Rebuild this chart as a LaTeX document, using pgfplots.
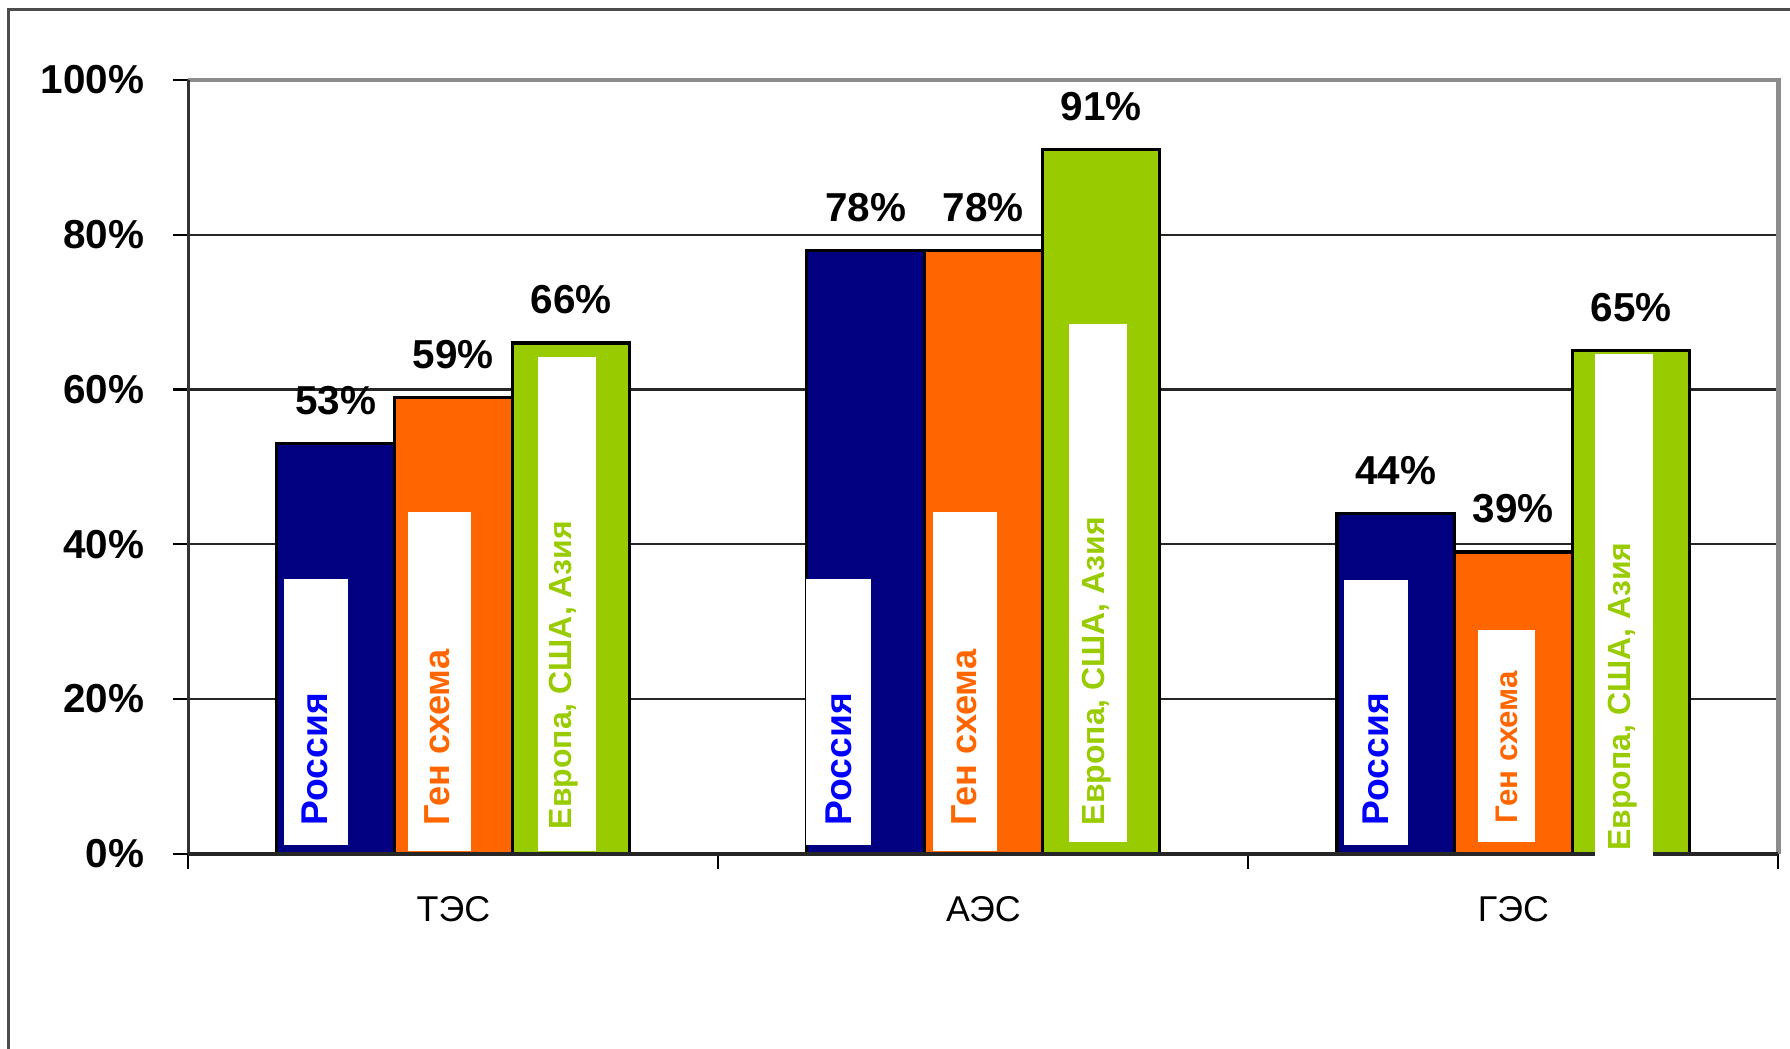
\documentclass[border=0pt]{standalone}
\usepackage{fontspec}
\setmainfont{Liberation Sans}
\usepackage{pgfplots}
\pgfplotsset{compat=1.18}
\definecolor{cNavy}{RGB}{0,0,128}
\definecolor{cOrange}{RGB}{255,102,0}
\definecolor{cGreen}{RGB}{153,204,0}
\definecolor{cBlue}{RGB}{0,0,255}
\begin{document}
\begin{tikzpicture}
\useasboundingbox (-1.884,-1.951) rectangle (16.016,8.539);
\draw[line width=0.8pt, black!70] (-1.80,-2.3) -- (-1.80,8.44) -- (16.3,8.44);
\begin{axis}[
  at={(0,0)}, anchor=south west,
  scale only axis, width=15.9cm, height=7.74cm,
  xmin=-0.5, xmax=2.5, ymin=0, ymax=100,
  clip=false,
  axis line style={draw=none},
  ybar, bar width=0.222,
  ymajorgrids, major grid style={black!85, line width=0.6pt},
  ytick={0,20,40,60,80,100},
  yticklabels={0\%,20\%,40\%,60\%,80\%,100\%},
  xtick={-0.5,0.5,1.5,2.5}, xticklabels={},
  extra x ticks={0,1,2}, extra x tick labels={ТЭС,АЭС,ГЭС},
  extra x tick style={major tick length=0pt, grid=none,
     xticklabel style={yshift=-0.30cm}},
  xtick pos=bottom, ytick pos=left,
  tick align=outside, major tick length=0.15cm,
  tick style={black, line width=0.6pt},
  yticklabel style={font=\bfseries\fontsize{11.5}{14}\selectfont, xshift=-0.17cm},
  xticklabel style={font=\fontsize{10.2}{12}\selectfont},
  /pgf/number format/assume math mode=true,
  nodes near coords={\pgfmathprintnumber{\pgfplotspointmeta}\%},
  every node near coord/.append style={font=\bfseries\fontsize{11.5}{14}\selectfont,
     anchor=center, yshift=0.43cm, inner sep=0pt, text=black},
]
\addplot[bar shift=-0.222, fill=cNavy, draw=black, line width=0.9pt]
  coordinates {(0,53) (1,78) (2,44)};
\addplot[bar shift=0, fill=cOrange, draw=black, line width=0.9pt]
  coordinates {(0,59) (1,78) (2,39)};
\addplot[bar shift=0.222, fill=cGreen, draw=black, line width=0.9pt]
  coordinates {(0,66) (1,91) (2,65)};
% axis frame
\draw[line width=1.2pt, black!45] (axis cs:-0.5,100) -- (axis cs:2.5,100) -- (axis cs:2.5,0);
\draw[line width=0.7pt, black!80] (axis cs:-0.5,0) -- (axis cs:-0.5,100);
\draw[line width=1.2pt, black!85] (axis cs:-0.5,0) -- (axis cs:2.5,0);
% white label boxes
\fill[white] (axis cs:-0.319,1.2) rectangle (axis cs:-0.198,35.5);
\fill[white] (axis cs:-0.0865,0.4) rectangle (axis cs:0.034,44.2);
\fill[white] (axis cs:0.159,0.4) rectangle (axis cs:0.269,64.2);
\fill[white] (axis cs:0.665,1.2) rectangle (axis cs:0.788,35.5);
\fill[white] (axis cs:0.904,0.4) rectangle (axis cs:1.025,44.2);
\fill[white] (axis cs:1.161,1.5) rectangle (axis cs:1.270,68.4);
\fill[white] (axis cs:1.680,1.2) rectangle (axis cs:1.802,35.4);
\fill[white] (axis cs:1.934,1.5) rectangle (axis cs:2.041,28.9);
\fill[white] (axis cs:2.153,-1.8) rectangle (axis cs:2.263,64.6);
% rotated labels
\tikzset{lab/.style={rotate=90, anchor=west, inner sep=0pt}}
\node[lab, text=cBlue, font=\bfseries\fontsize{10.6}{12}\selectfont] at (axis cs:-0.261,3.6) {Россия};
\node[lab, text=cOrange, font=\bfseries\fontsize{10.3}{12}\selectfont] at (axis cs:-0.0305,3.6) {Ген схема};
\node[lab, text=cGreen, font=\bfseries\fontsize{9.1}{12}\selectfont] at (axis cs:0.2086,3.1) {Европа, США, Азия};
\node[lab, text=cBlue, font=\bfseries\fontsize{10.6}{12}\selectfont] at (axis cs:0.728,3.6) {Россия};
\node[lab, text=cOrange, font=\bfseries\fontsize{10.3}{12}\selectfont] at (axis cs:0.9646,3.6) {Ген схема};
\node[lab, text=cGreen, font=\bfseries\fontsize{9.1}{12}\selectfont] at (axis cs:1.214,3.6) {Европа, США, Азия};
\node[lab, text=cBlue, font=\bfseries\fontsize{10.6}{12}\selectfont] at (axis cs:1.740,3.6) {Россия};
\node[lab, text=cOrange, font=\bfseries\fontsize{8.9}{12}\selectfont] at (axis cs:1.988,3.9) {Ген схема};
\node[lab, text=cGreen, font=\bfseries\fontsize{9.1}{12}\selectfont] at (axis cs:2.207,0.3) {Европа, США, Азия};
\end{axis}
\end{tikzpicture}
\end{document}
